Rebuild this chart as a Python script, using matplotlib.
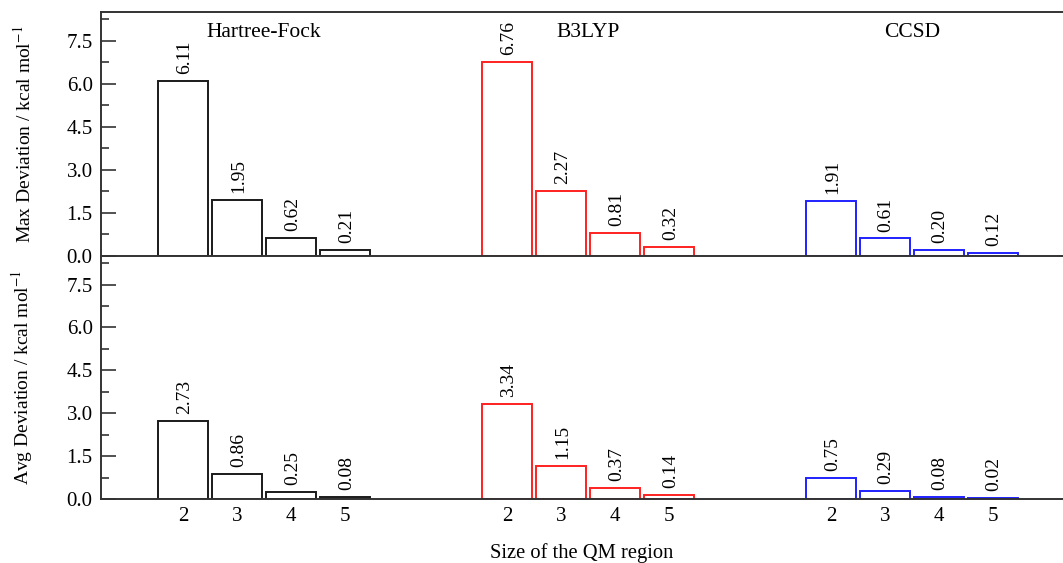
import numpy as np
import matplotlib
matplotlib.use('Agg')
import matplotlib.pyplot as plt
from matplotlib.ticker import MultipleLocator, FormatStrFormatter

plt.rcParams['font.family'] = ['Liberation Serif', 'DejaVu Serif']
plt.rcParams['mathtext.fontset'] = 'stix'

# QM region sizes and methods
sizes = ['2', '3', '4', '5']
methods = ['Hartree-Fock', 'B3LYP', 'CCSD']
colors = ['#1a1a1a', '#ff2020', '#2020ff']

# deviations in kcal/mol, one list per method
max_dev = [[6.11, 1.95, 0.62, 0.21],
           [6.76, 2.27, 0.81, 0.32],
           [1.91, 0.61, 0.20, 0.12]]
avg_dev = [[2.73, 0.86, 0.25, 0.08],
           [3.34, 1.15, 0.37, 0.14],
           [0.75, 0.29, 0.08, 0.02]]

fig = plt.figure(figsize=(10.63, 5.63), dpi=100)
ax1 = fig.add_axes([0.095, 0.5453, 0.905, 0.4334])
ax2 = fig.add_axes([0.095, 0.1137, 0.905, 0.4316])

group_gap = 6
width = 0.92
spine_col = '#333333'

for ax, data, ylab in [(ax1, max_dev, 'Max Deviation / kcal mol$^{-1}$'),
                       (ax2, avg_dev, 'Avg Deviation / kcal mol$^{-1}$')]:
    tick_pos = []
    for g, (vals, col) in enumerate(zip(data, colors)):
        x = np.arange(len(sizes)) + 2 + g * group_gap
        tick_pos.extend(x)
        ax.bar(x, vals, width=width, facecolor='white', edgecolor=col,
               linewidth=1.4, zorder=2)
        for xi, v in zip(x, vals):
            ax.annotate(f'{v:.2f}', (xi, v), xytext=(1, 5),
                        textcoords='offset points', rotation=90,
                        ha='center', va='bottom', fontsize=14)
    ax.set_xlim(0.48, 18.3)
    ax.set_ylim(0, 8.5)
    ax.yaxis.set_major_locator(MultipleLocator(1.5))
    ax.yaxis.set_minor_locator(MultipleLocator(0.75))
    ax.yaxis.set_major_formatter(FormatStrFormatter('%.1f'))
    ax.tick_params(axis='y', which='major', direction='in', length=11,
                   width=1.2, color=spine_col, labelsize=15, pad=6)
    ax.tick_params(axis='y', which='minor', direction='in', length=6,
                   width=1.2, color=spine_col)
    ax.set_xticks(tick_pos)
    ax.set_xticklabels(sizes * len(methods))
    ax.tick_params(axis='x', length=0, labelsize=15, pad=6)
    ax.spines['right'].set_visible(False)
    for s in ['left', 'top', 'bottom']:
        ax.spines[s].set_color(spine_col)
        ax.spines[s].set_linewidth(1.4)
    ax.set_ylabel(ylab, fontsize=14)
    ax.yaxis.set_label_coords(-0.069, 0.5)
    ax.patch.set_alpha(0)

ax1.tick_params(axis='x', labelbottom=False)
ax2.spines['top'].set_visible(False)

for g, name in enumerate(methods):
    ax1.text(3.5 + g * group_gap, 7.8, name, ha='center', va='center',
             fontsize=15.5)

ax2.set_xlabel('Size of the QM region', fontsize=14.8, labelpad=12)

fig.savefig('out.png', dpi=100)
